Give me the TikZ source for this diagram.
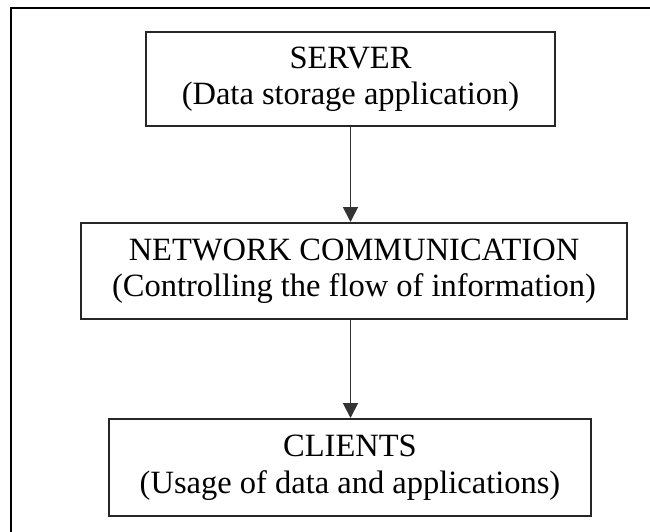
\documentclass[tikz,border=0pt]{standalone}
\usepackage{fontspec}
\setmainfont{Liberation Serif}
\usetikzlibrary{arrows.meta}
\begin{document}
\begin{tikzpicture}[x=1pt,y=-1pt,
  stagebox/.style={draw=black!85, line width=2pt, inner sep=0pt, align=center,
    font=\fontsize{32.5}{36.5}\selectfont},
  flow/.style={draw=black!80, line width=1.9pt,
    -{Triangle[width=15pt,length=15pt]}},
  frame/.style={draw=black, line width=2.4pt}]
  \useasboundingbox (0,0) rectangle (650,532);

  % partial page frame (top and left edges)
  \coordinate (fl) at (11,532);
  \coordinate (fc) at (11,8);
  \coordinate (fr) at (650,8);
  \draw[frame] (fl) -- (fc) -- (fr);

  \node[stagebox, minimum width=409pt, minimum height=94pt] (server) at (350.5,79)
    {SERVER\\(Data storage application)};
  \node[stagebox, minimum width=546pt, minimum height=96pt] (network) at (354,271)
    {NETWORK COMMUNICATION\\(Controlling the flow of information)};
  \node[stagebox, minimum width=482pt, minimum height=97pt] (clients) at (350,467.5)
    {CLIENTS\\(Usage of data and applications)};

  \draw[flow] (server.south) -- (server.south |- network.north);
  \draw[flow] (server.south |- network.south) -- (server.south |- clients.north);
\end{tikzpicture}
\end{document}
